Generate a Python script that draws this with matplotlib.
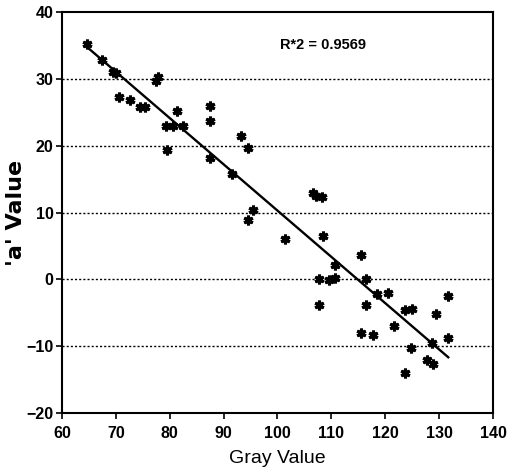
import numpy as np
import matplotlib.pyplot as plt

plt.rcParams['font.family'] = ['Liberation Sans', 'DejaVu Sans']

# gray value vs 'a' value
gray = [64.6, 67.4, 69.5, 70.0, 77.5, 77.8, 70.6, 72.6, 74.5, 75.4, 81.4, 87.5,
        87.5, 79.4, 80.6, 82.5, 93.3, 94.6, 79.5, 87.5, 91.6, 95.5, 94.6,
        101.4, 108.4, 106.6, 107.2, 108.3, 115.6, 110.6, 107.7, 109.6, 110.6,
        116.5, 118.4, 120.5, 107.7, 116.5, 123.6, 124.9, 131.7, 129.5, 121.6,
        115.6, 117.8, 131.7, 128.6, 124.8, 127.7, 128.9, 123.6]
a_val = [35.2, 32.8, 31.0, 30.8, 29.7, 30.2, 27.3, 26.9, 25.8, 25.8, 25.2, 25.9,
         23.7, 22.9, 22.9, 22.9, 21.5, 19.7, 19.3, 18.1, 15.7, 10.4, 8.9,
         6.0, 6.5, 12.9, 12.4, 12.3, 3.7, 2.1, 0.0, -0.1, 0.2,
         0.0, -2.2, -2.1, -3.8, -3.8, -4.5, -4.4, -2.5, -5.2, -6.9,
         -8.0, -8.3, -8.8, -9.5, -10.2, -12.0, -12.6, -14.0]
r2_text = 'R*2 = 0.9569'

x = np.array(gray)
y = np.array(a_val)
slope, icpt = np.polyfit(x, y, 1)
xl = np.array([x.min(), x.max()])

fig = plt.figure(figsize=(5.2, 4.76), dpi=100)
ax = fig.add_axes([0.119, 0.132, 0.829, 0.843])

for g in [-10, 0, 10, 20, 30]:
    ax.axhline(g, color='black', lw=1.0, ls=(0, (1.5, 1.5)), zorder=1)

ax.plot(xl, slope * xl + icpt, color='black', lw=1.7, zorder=2)
ax.plot(x, y, ls='none', marker=(6, 2, 0), ms=7, mew=2.2,
        color='black', zorder=3)

ax.text(100.5, 35, r2_text, fontsize=10.5, va='center', ha='left',
        fontweight='bold')

ax.set_xlim(60, 140)
ax.set_ylim(-20, 40)
ax.set_xticks(range(60, 141, 10))
ax.set_yticks(range(-20, 41, 10))
ax.tick_params(direction='out', length=4, width=1.2, labelsize=11.5, pad=2)
ax.tick_params(axis='x', pad=5)
for lab in ax.get_xticklabels() + ax.get_yticklabels():
    lab.set_fontweight('bold')
for s in ax.spines.values():
    s.set_linewidth(1.5)

ax.set_xlabel('Gray Value', fontsize=14, labelpad=7)
ax.set_ylabel("'a' Value", fontsize=16, fontweight='bold',
              family=['DejaVu Sans'])
ax.yaxis.set_label_coords(-0.083, 0.5)

fig.savefig('out.png', dpi=100)
